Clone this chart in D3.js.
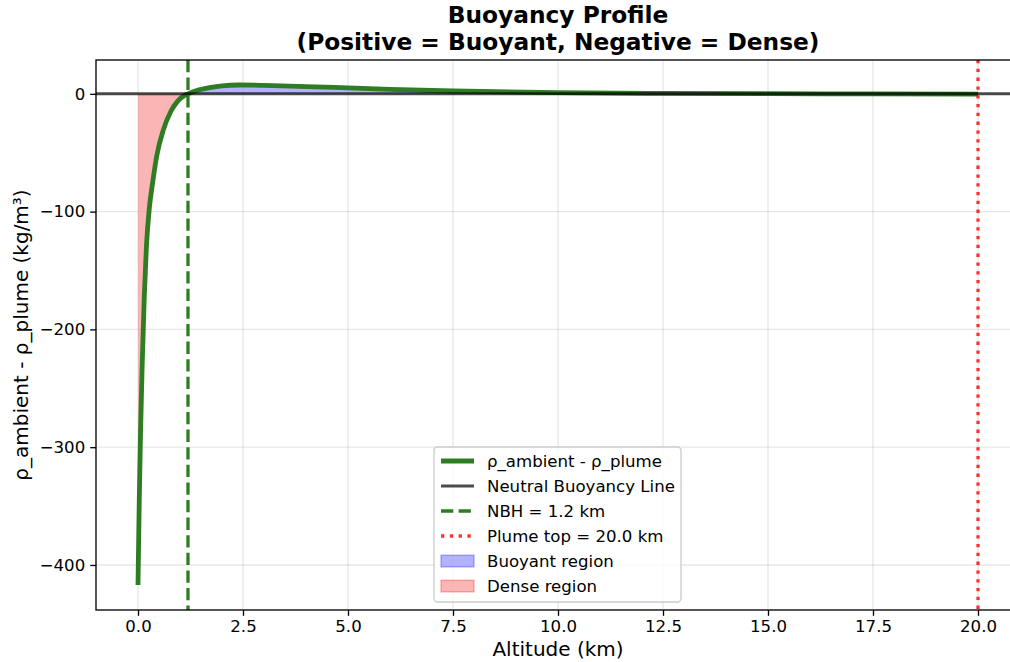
<!DOCTYPE html>
<html>
<head>
<meta charset="utf-8">
<title>Buoyancy Profile</title>
<script src="https://cdn.jsdelivr.net/npm/d3@7"></script>
<style>
    html, body { margin: 0; padding: 0; background: #fff; overflow: hidden; }
    svg { display: block; font-family: "DejaVu Sans", sans-serif; }
</style>
</head>
<body>
<div id="chartcontainer"></div>
<script>
// Buoyancy profile values
var altitudeKm = [0, 0.03, 0.06, 0.1, 0.15, 0.2, 0.27, 0.35, 0.45, 0.6, 0.78, 0.95, 1.1, 1.19,
                  1.4, 1.7, 2.0, 2.4, 3.0, 4.0, 5.0, 6.0, 7.5, 10, 12.5, 15, 17.5, 20];
var densityDiff = [-417, -345, -288, -230, -172, -130, -97, -75, -52, -31, -15, -6, -1.5, 0,
                   2.8, 5.2, 6.8, 7.5, 7.2, 6.2, 5.0, 3.8, 2.4, 1.0, 0.4, 0.1, 0.0, -0.2];
var nbhKm = 1.19,
    plumeTopKm = 20.0;
var xTicks = [0, 2.5, 5, 7.5, 10, 12.5, 15, 17.5, 20];
var yTicks = [0, -100, -200, -300, -400];
var legendLabels = ["ρ_ambient - ρ_plume", "Neutral Buoyancy Line", "NBH = 1.2 km",
                    "Plume top = 20.0 km", "Buoyant region", "Dense region"];

function BuoyancyChart() {

    var width = 1010, height = 662;
    var plot = { left: 96, right: 1020, top: 60, bottom: 610 };

    var green = "#2e7d23";
    var svg, x, y;

    var points = altitudeKm.map(function (a, i) {
        return { alt: a, v: densityDiff[i] };
    });

    function prepareSvg() {
        svg = d3.select("#chartcontainer")
            .append("svg")
            .attr("width", width)
            .attr("height", height);
        svg.append("rect").attr("width", width).attr("height", height).attr("fill", "#fff");

        x = d3.scaleLinear().domain([-1, 21]).range([plot.left, plot.right]);

        // matplotlib style 5% margin around the data
        var ext = d3.extent(densityDiff), pad = (ext[1] - ext[0]) * 0.05;
        y = d3.scaleLinear().domain([ext[0] - pad, ext[1] + pad]).range([plot.bottom, plot.top]);

        svg.append("clipPath").attr("id", "plotclip")
            .append("rect")
            .attr("x", plot.left).attr("y", plot.top)
            .attr("width", plot.right - plot.left).attr("height", plot.bottom - plot.top);
    }

    function drawGrid() {
        var g = svg.append("g").attr("class", "grid");
        g.selectAll("line.gx").data(xTicks).enter().append("line")
            .attr("x1", function (d) { return x(d); }).attr("x2", function (d) { return x(d); })
            .attr("y1", plot.top).attr("y2", plot.bottom);
        g.selectAll("line.gy").data(yTicks).enter().append("line")
            .attr("y1", function (d) { return y(d); }).attr("y2", function (d) { return y(d); })
            .attr("x1", plot.left).attr("x2", plot.right);
        g.selectAll("line")
            .attr("stroke", "#b0b0b0").attr("stroke-opacity", 0.3).attr("stroke-width", 1.33);
    }

    function drawFills(layer) {
        var area = d3.area()
            .x(function (d) { return x(d.alt); })
            .y0(y(0))
            .y1(function (d) { return y(d.v); })
            .curve(d3.curveMonotoneX);

        layer.append("path")
            .datum(points)
            .attr("d", area.defined(function (d) { return d.v >= 0; }))
            .attr("fill", "rgba(0,0,255,0.3)");

        layer.append("path")
            .datum(points)
            .attr("d", area.defined(function (d) { return d.v <= 0 && d.alt <= nbhKm; }))
            .attr("fill", "rgba(240,0,0,0.29)");
    }

    function drawLines(layer) {
        var line = d3.line()
            .x(function (d) { return x(d.alt); })
            .y(function (d) { return y(d.v); })
            .curve(d3.curveMonotoneX);

        layer.append("path")
            .datum(points)
            .attr("d", line)
            .attr("fill", "none")
            .attr("stroke", green)
            .attr("stroke-width", 4.8)
            .attr("stroke-linejoin", "round");

        // neutral buoyancy line
        layer.append("line")
            .attr("x1", plot.left).attr("x2", plot.right)
            .attr("y1", y(0)).attr("y2", y(0))
            .attr("stroke", "#000").attr("stroke-opacity", 0.7).attr("stroke-width", 3);

        layer.append("line")
            .attr("x1", x(nbhKm)).attr("x2", x(nbhKm))
            .attr("y1", plot.top).attr("y2", plot.bottom)
            .attr("stroke", green).attr("stroke-width", 3.3)
            .attr("stroke-dasharray", "12.3,5.3");

        layer.append("line")
            .attr("x1", x(plumeTopKm)).attr("x2", x(plumeTopKm))
            .attr("y1", plot.top).attr("y2", plot.bottom)
            .attr("stroke", "#ff0000").attr("stroke-opacity", 0.8).attr("stroke-width", 3.3)
            .attr("stroke-dasharray", "3.3,5.5");
    }

    function drawAxes() {
        var xAxis = d3.axisBottom(x).tickValues(xTicks).tickSize(5.8).tickPadding(4)
            .tickFormat(d3.format(".1f"));
        var yAxis = d3.axisLeft(y).tickValues(yTicks).tickSize(5.8).tickPadding(5)
            .tickFormat(function (d) { return d3.format("d")(d).replace("-", "\u2212"); });

        var gx = svg.append("g").attr("transform", "translate(0," + plot.bottom + ")").call(xAxis);
        var gy = svg.append("g").attr("transform", "translate(" + plot.left + ",0)").call(yAxis);

        [gx, gy].forEach(function (g) {
            g.select(".domain").remove();
            g.selectAll(".tick line").attr("stroke", "#000").attr("stroke-width", 1.33);
            g.selectAll(".tick text").attr("fill", "#000")
                .style("font-size", "16.6px").style("font-family", "DejaVu Sans");
        });

        // spines
        svg.append("rect")
            .attr("x", plot.left).attr("y", plot.top)
            .attr("width", plot.right - plot.left).attr("height", plot.bottom - plot.top)
            .attr("fill", "none").attr("stroke", "#000").attr("stroke-width", 1.33);

        svg.append("text")
            .attr("x", (plot.left + plot.right) / 2).attr("y", 656)
            .attr("text-anchor", "middle").style("font-size", "20px")
            .text("Altitude (km)");

        svg.append("text")
            .attr("transform", "translate(28," + (plot.top + plot.bottom) / 2 + ") rotate(-90)")
            .attr("text-anchor", "middle").style("font-size", "20px")
            .text("ρ_ambient - ρ_plume (kg/m³)");

        var title = svg.append("text")
            .attr("text-anchor", "middle").style("font-size", "23.3px").style("font-weight", "bold");
        title.append("tspan").attr("x", (plot.left + plot.right) / 2).attr("y", 23)
            .text("Buoyancy Profile");
        title.append("tspan").attr("x", (plot.left + plot.right) / 2).attr("y", 50)
            .text("(Positive = Buoyant, Negative = Dense)");
    }

    function drawLegend() {
        var box = { x: 434, y: 447, w: 247, h: 155 },
            rowH = 25, firstRow = 461;
        var g = svg.append("g").attr("class", "legend");

        g.append("rect")
            .attr("x", box.x).attr("y", box.y).attr("width", box.w).attr("height", box.h)
            .attr("rx", 3.5)
            .attr("fill", "#fff").attr("fill-opacity", 0.8)
            .attr("stroke", "#cccccc").attr("stroke-width", 1.33);

        var styles = [
            { type: "line", color: green, width: 4.8 },
            { type: "line", color: "#000", opacity: 0.7, width: 3 },
            { type: "line", color: green, width: 3.3, dash: "12.3,5.3" },
            { type: "line", color: "#ff0000", opacity: 0.8, width: 3.3, dash: "3.3,5.5" },
            { type: "patch", color: "rgba(0,0,255,0.3)" },
            { type: "patch", color: "rgba(240,0,0,0.29)" }
        ];

        legendLabels.forEach(function (label, i) {
            var cy = firstRow + i * rowH, s = styles[i];
            if (s.type === "line") {
                g.append("line")
                    .attr("x1", 441).attr("x2", 474).attr("y1", cy).attr("y2", cy)
                    .attr("stroke", s.color).attr("stroke-width", s.width)
                    .attr("stroke-opacity", s.opacity || 1)
                    .attr("stroke-dasharray", s.dash || null);
            } else {
                g.append("rect")
                    .attr("x", 441).attr("y", cy - 5.8).attr("width", 33).attr("height", 11.7)
                    .attr("fill", s.color).attr("stroke", s.color).attr("stroke-width", 1.33);
            }
            g.append("text")
                .attr("x", 487).attr("y", cy).attr("dy", "0.35em")
                .style("font-size", "16.6px").attr("fill", "#000")
                .text(label);
        });
    }

    function init() {
        prepareSvg();
        var data = svg.append("g").attr("clip-path", "url(#plotclip)");
        drawFills(data);
        drawGrid();
        var lines = svg.append("g").attr("clip-path", "url(#plotclip)");
        drawLines(lines);
        drawAxes();
        drawLegend();
    }

    init();
}

BuoyancyChart();
</script>
</body>
</html>
